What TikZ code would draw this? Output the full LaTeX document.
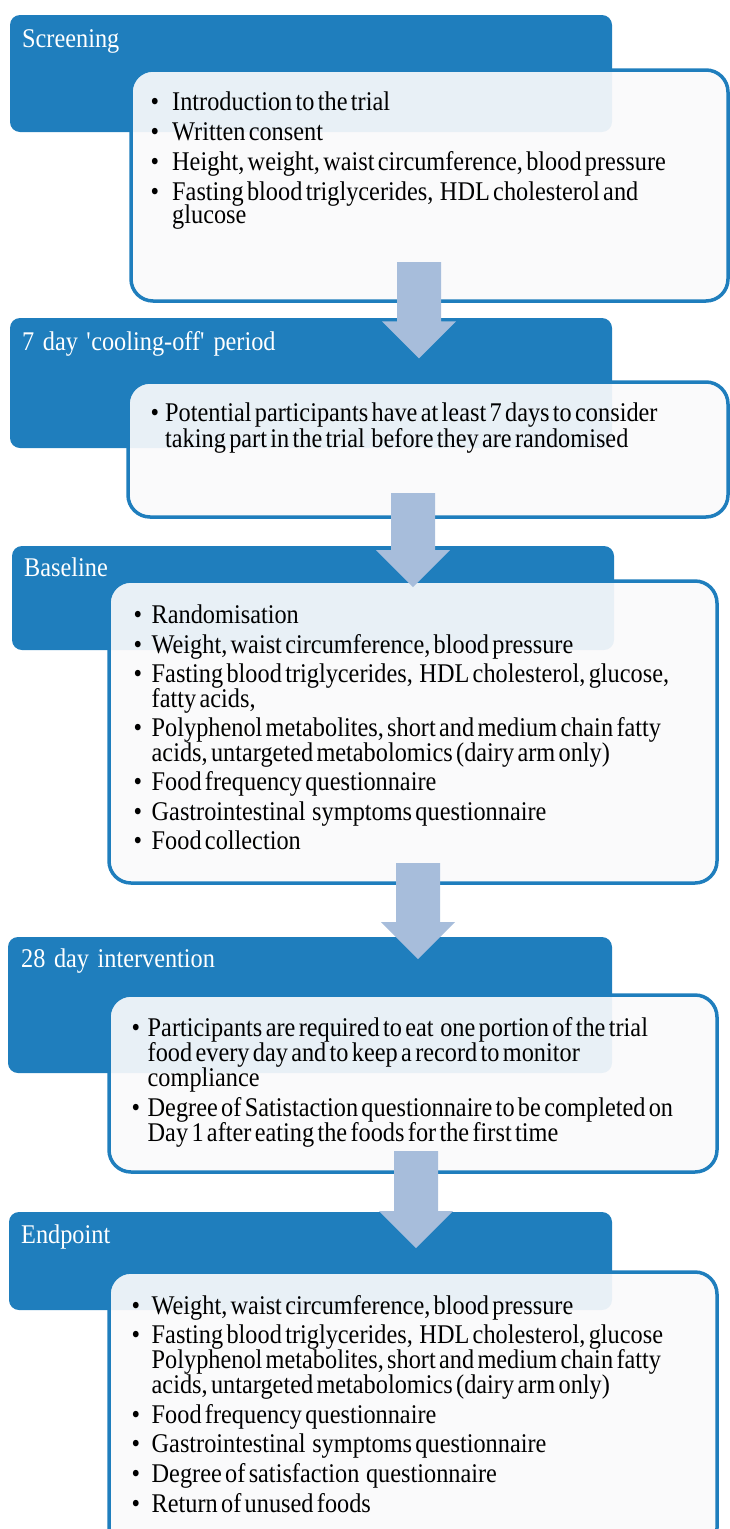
\documentclass[tikz,border=0pt]{standalone}
\usepackage{fontspec}
\setmainfont{Liberation Serif}[FakeStretch=0.9,WordSpace=1.4]
\usetikzlibrary{calc}
\definecolor{hdrblue}{HTML}{1F7EBD}
\definecolor{boxfill}{HTML}{FAFAFB}
\definecolor{arrowc}{HTML}{A7BDDB}
\definecolor{txt}{HTML}{000000}
\newenvironment{blist}[3]{\fontsize{27}{#2}\selectfont\setlength\lineskiplimit{-60pt}%
  \begin{list}{\textbullet}{\setlength\leftmargin{#1}\setlength\labelwidth{#1}%
  \setlength\labelsep{0pt}\setlength\itemsep{#3}\setlength\topsep{0pt}%
  \setlength\parsep{0pt}\setlength\partopsep{0pt}\renewcommand\makelabel[1]{##1\hfill}}}%
  {\end{list}}
\newcommand\flowarrow[2]{\fill[arrowc] ($(#1)+(-22,0)$) -- ($(#1)+(22,0)$) -- ($(#2)+(22,-37)$)
  -- ($(#2)+(37,-37)$) -- (#2) -- ($(#2)+(-37,-37)$) -- ($(#2)+(-22,-37)$) -- cycle;}
\begin{document}
\begin{tikzpicture}[x=1pt,y=-1pt,
  hdr/.style={fill=hdrblue, rounded corners=10pt, inner sep=0pt, outer sep=0pt},
  bx/.style={draw=hdrblue, line width=3.5pt, fill=boxfill, fill opacity=0.92,
    rounded corners=22pt, inner sep=0pt, outer sep=0pt},
  ttl/.style={text=white, anchor=base west, inner sep=0pt, font=\fontsize{27}{30}\selectfont},
  body/.style={text=txt, anchor=base west, inner sep=0pt, text width=585pt, align=left}]
\clip (0,0) rectangle (730,1529);
\path[use as bounding box] (0,0) rectangle (730,1529);
% headers and boxes
\node[hdr, minimum width=602pt, minimum height=117pt] (h1) at (311,73.5) {};
\node[bx, minimum width=597pt, minimum height=231pt] (b1) at (429.5,185.5) {};
\node[hdr, minimum width=602pt, minimum height=130pt] (h2) at (311,383) {};
\node[bx, minimum width=600pt, minimum height=135pt] (b2) at (428,449.5) {};
\node[hdr, minimum width=602pt, minimum height=104pt] (h3) at (313,598) {};
\node[bx, minimum width=608pt, minimum height=302pt] (b3) at (413,732) {};
\node[hdr, minimum width=604pt, minimum height=136pt] (h4) at (310,1005) {};
\node[bx, minimum width=608pt, minimum height=177pt] (b4) at (413,1083.5) {};
\node[hdr, minimum width=603pt, minimum height=98pt] (h5) at (310.5,1261) {};
\node[bx, minimum width=608pt, minimum height=278pt] (b5) at (413,1411) {};
% titles
\node[ttl] (t1) at (22,47) {Screening};
\node[ttl] (t2) at (22,350) {7 day \textquotesingle cooling-off\textquotesingle\ period};
\node[ttl] (t3) at (24,576) {Baseline};
\node[ttl] (t4) at (21,967) {28 day intervention};
\node[ttl] (t5) at (21,1243) {Endpoint};
% body texts (anchor sits one line above the first baseline)
\node[body] (l1) at (150.5,87) {\begin{blist}{21.5pt}{23pt}{7pt}
\item Introduction to the trial
\item Written consent
\item Height, weight, waist circumference, blood pressure
\item Fasting blood triglycerides, \ HDL cholesterol and\\glucose
\end{blist}};
\node[body] (l2) at (150.5,396) {\begin{blist}{14.5pt}{25.5pt}{0pt}
\item Potential participants have at least 7 days to consider\\taking part in the trial \ before they are randomised
\end{blist}};
\node[body] (l3) at (133.5,598.7) {\begin{blist}{18pt}{25pt}{4.3pt}
\item Randomisation
\item Weight, waist circumference, blood pressure
\item Fasting blood triglycerides, \ HDL cholesterol, glucose,\\fatty acids,
\item Polyphenol metabolites, short and medium chain fatty\\acids, untargeted metabolomics (dairy arm only)
\item Food frequency questionnaire
\item Gastrointestinal \ symptoms questionnaire
\item Food collection
\end{blist}};
\node[body] (l4) at (131.5,1011) {\begin{blist}{16pt}{25pt}{5pt}
\item Participants are required to eat \ one portion of the trial\\food every day and to keep a record to monitor\\compliance
\item Degree of Satistaction questionnaire to be completed on\\Day 1 after eating the foods for the first time
\end{blist}};
\node[body] (l5) at (131.5,1289) {\begin{blist}{20pt}{25pt}{4.6pt}
\item Weight, waist circumference, blood pressure
\item Fasting blood triglycerides, \ HDL cholesterol, glucose\\Polyphenol metabolites, short and medium chain fatty\\acids, untargeted metabolomics (dairy arm only)
\item Food frequency questionnaire
\item Gastrointestinal \ symptoms questionnaire
\item Degree of satisfaction \ questionnaire
\item Return of unused foods
\end{blist}};
% arrows
\coordinate (a1s) at (419,262);
\coordinate (a1e) at (419,358.3);
\coordinate (a2s) at (413,493);
\coordinate (a2e) at (413,587);
\coordinate (a3s) at (418,863);
\coordinate (a3e) at (418,959);
\coordinate (a4s) at (416,1151);
\coordinate (a4e) at (416,1248);
\flowarrow{a1s}{a1e}
\flowarrow{a2s}{a2e}
\flowarrow{a3s}{a3e}
\flowarrow{a4s}{a4e}
\end{tikzpicture}
\end{document}
